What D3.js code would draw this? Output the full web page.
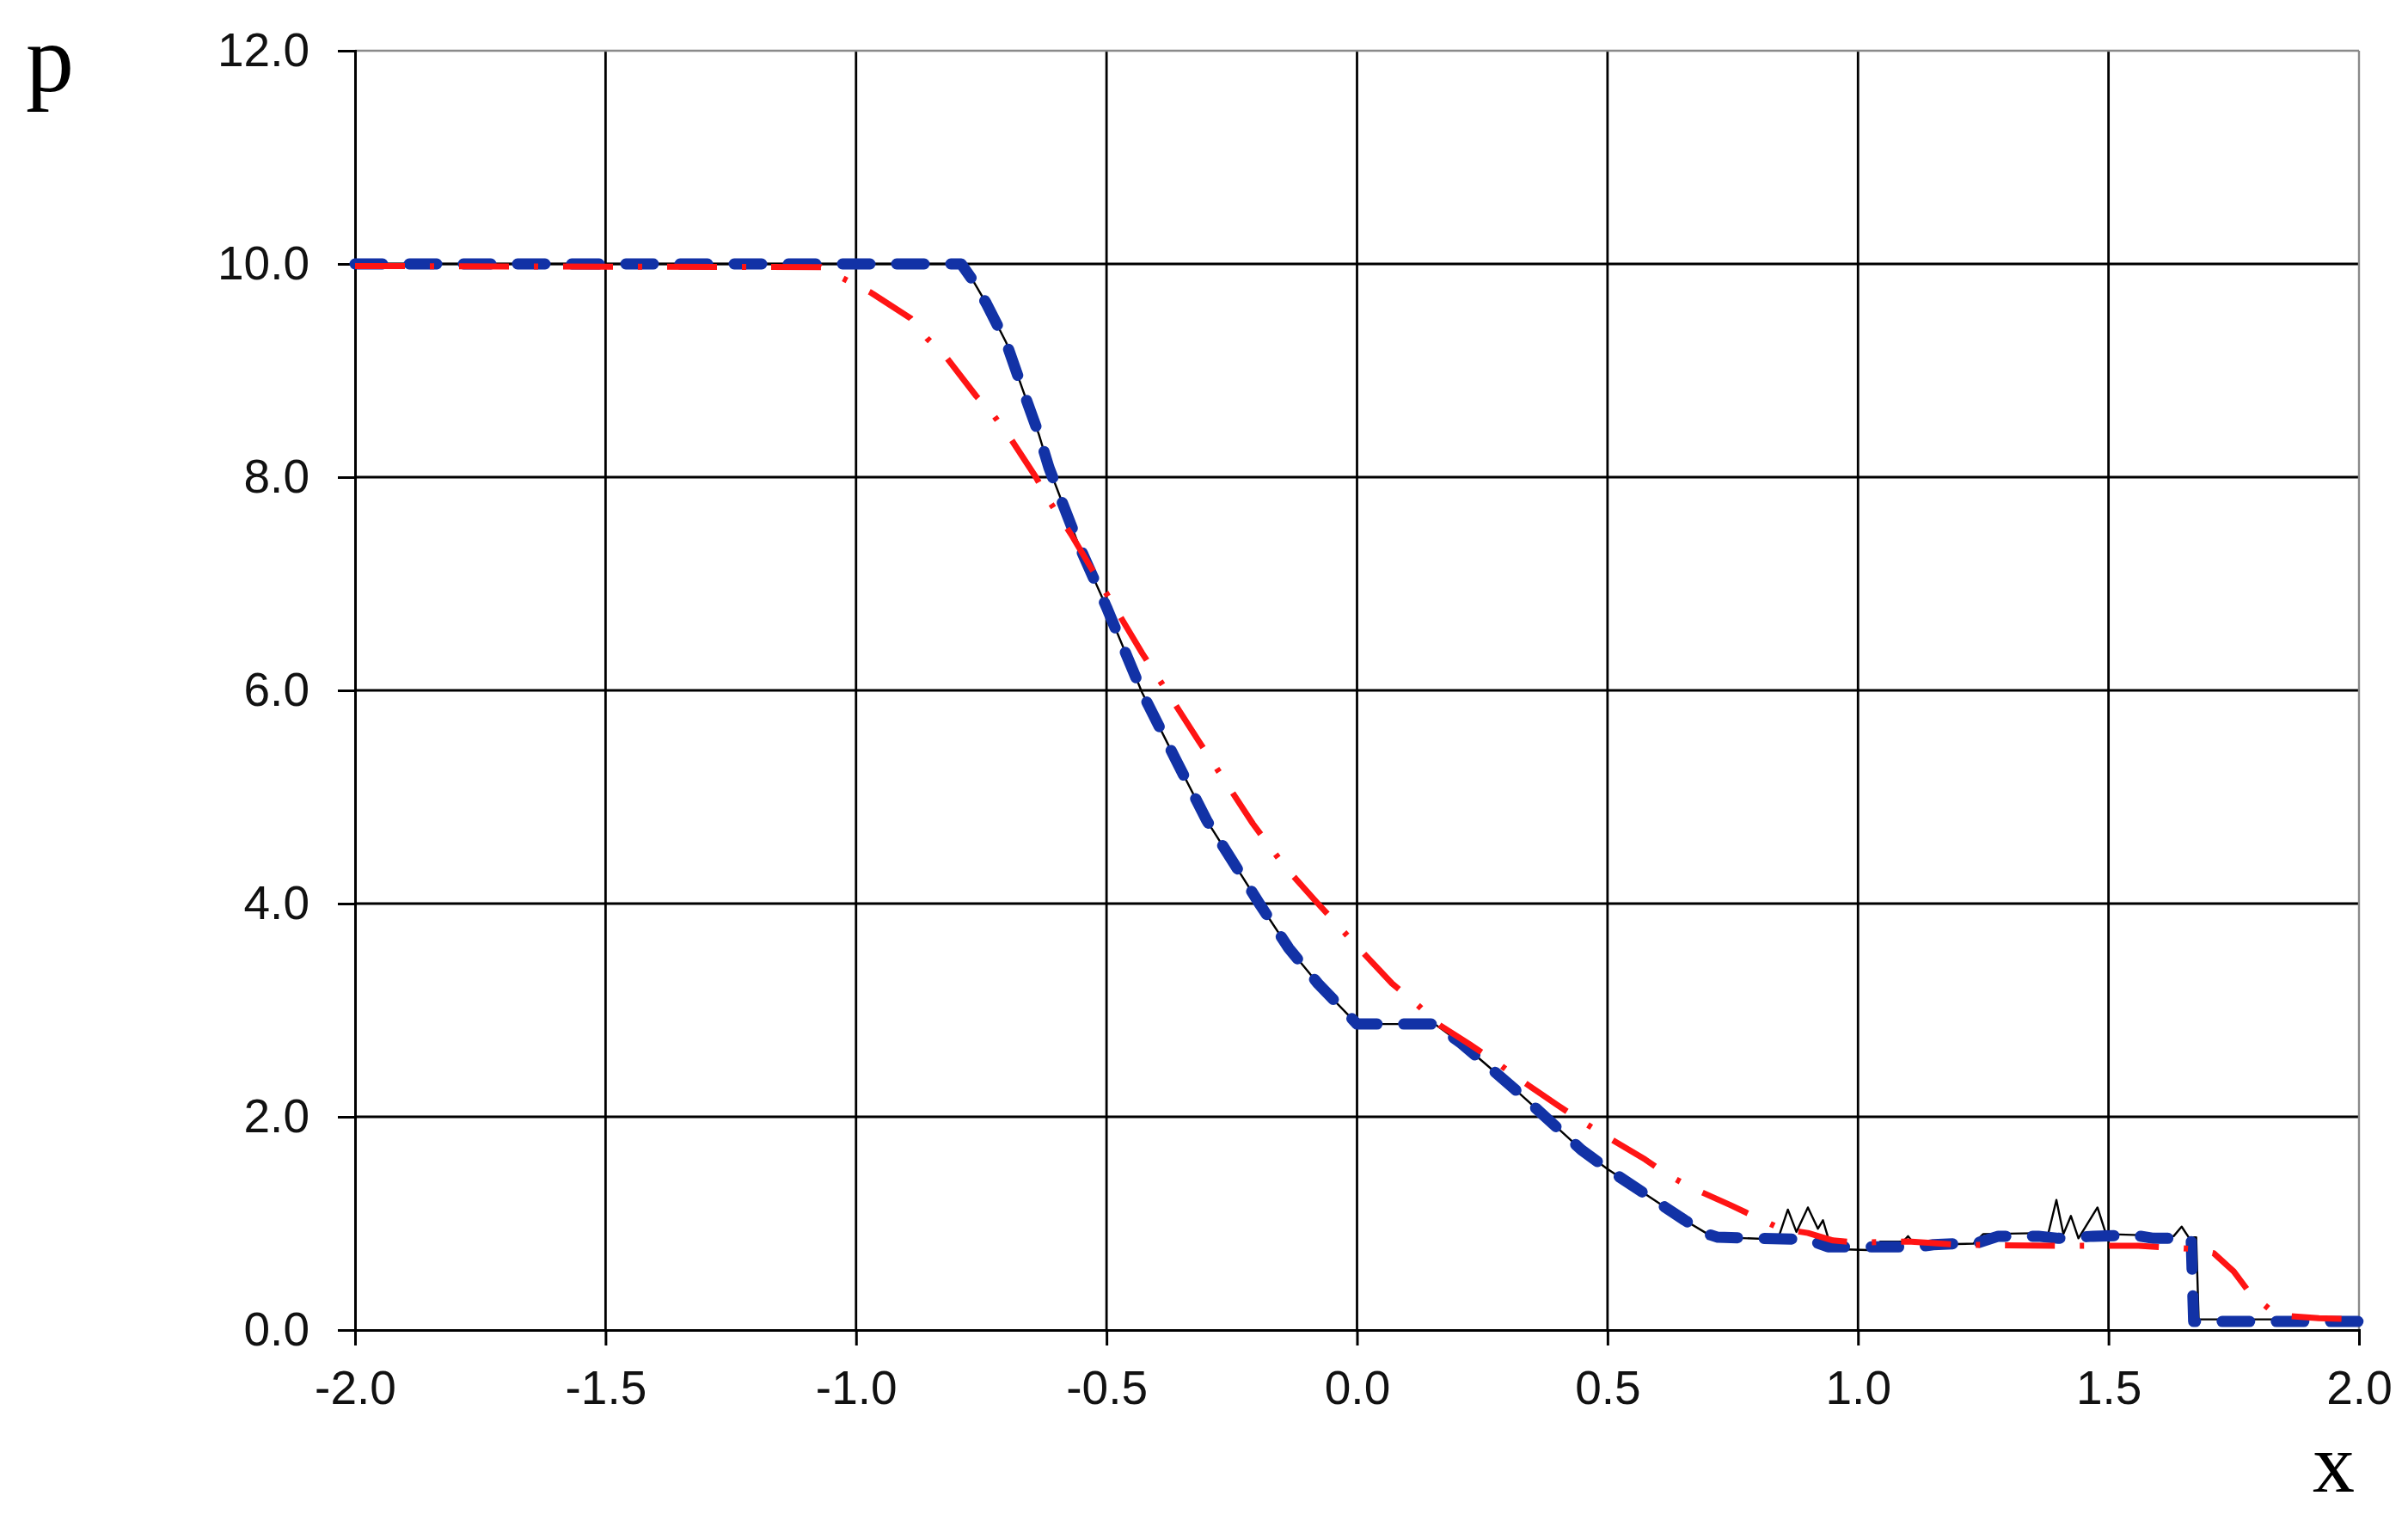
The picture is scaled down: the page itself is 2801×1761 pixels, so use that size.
<!DOCTYPE html>
<html>
<head>
<meta charset="utf-8">
<script src="https://d3js.org/d3.v7.min.js"></script>
<style>
  body { margin: 0; background: #ffffff; }
  .tick text { font-family: "Liberation Sans", Arial, sans-serif; font-size: 55px; fill: #111; }
  .axis-title { font-family: "Liberation Serif", "Times New Roman", serif; fill: #000; }
</style>
</head>
<body>
<div id="chart"></div>
<script>
//pressure profiles p(x), three curves

//thin black solid line (scheme with wiggles)
var blackX = [-2.0, -0.80, -0.766, -0.74, -0.70, -0.668, -0.635, -0.615, -0.589, -0.556, -0.50, -0.429, -0.364, -0.30, -0.234, -0.195, -0.136, -0.078, -0.039, 0.0, 0.155, 0.208, 0.253, 0.317, 0.385, 0.448, 0.50, 0.577, 0.654, 0.70, 0.72, 0.84, 0.86, 0.877, 0.90, 0.92, 0.93, 0.942, 0.948, 1.02, 1.045, 1.09, 1.10, 1.11, 1.13, 1.23, 1.25, 1.38, 1.396, 1.41, 1.425, 1.44, 1.478, 1.495, 1.63, 1.646, 1.66, 1.675, 1.68, 2.0];
var blackP = [10.0, 10.0, 9.84, 9.63, 9.26, 8.83, 8.40, 8.09, 7.77, 7.37, 6.78, 5.98, 5.37, 4.78, 4.29, 4.0, 3.58, 3.25, 3.06, 2.87, 2.87, 2.69, 2.51, 2.25, 1.96, 1.69, 1.51, 1.27, 1.03, 0.90, 0.87, 0.85, 1.13, 0.92, 1.15, 0.95, 1.03, 0.84, 0.76, 0.75, 0.83, 0.83, 0.88, 0.82, 0.80, 0.81, 0.90, 0.91, 1.22, 0.90, 1.07, 0.86, 1.15, 0.90, 0.88, 0.97, 0.87, 0.87, 0.10, 0.10];

//thick blue dashed line
var blueX = [-2.0, -0.79, -0.766, -0.74, -0.70, -0.668, -0.635, -0.615, -0.589, -0.556, -0.50, -0.429, -0.364, -0.30, -0.234, -0.195, -0.136, -0.078, -0.039, 0.0, 0.155, 0.208, 0.253, 0.317, 0.385, 0.448, 0.50, 0.577, 0.654, 0.70, 0.72, 0.90, 0.94, 1.12, 1.15, 1.24, 1.28, 1.36, 1.40, 1.47, 1.55, 1.59, 1.665, 1.67, 2.0];
var blueP = [10.0, 10.0, 9.84, 9.63, 9.26, 8.83, 8.40, 8.09, 7.77, 7.37, 6.78, 5.98, 5.37, 4.78, 4.29, 4.0, 3.58, 3.25, 3.06, 2.87, 2.87, 2.69, 2.51, 2.25, 1.96, 1.69, 1.51, 1.27, 1.03, 0.90, 0.87, 0.85, 0.78, 0.78, 0.80, 0.82, 0.88, 0.88, 0.86, 0.88, 0.89, 0.86, 0.86, 0.08, 0.08];

//red dash-dot line (smoother scheme)
var redX = [-2.0, -1.07, -1.02, -0.97, -0.891, -0.858, -0.819, -0.76, -0.727, -0.694, -0.641, -0.615, -0.569, -0.536, -0.48, -0.429, -0.37, -0.318, -0.208, -0.143, -0.078, 0.0, 0.07, 0.116, 0.165, 0.225, 0.276, 0.322, 0.40, 0.448, 0.50, 0.575, 0.618, 0.67, 0.746, 0.80, 0.846, 0.90, 0.95, 1.0, 1.10, 1.20, 1.40, 1.56, 1.67, 1.71, 1.75, 1.78, 1.82, 1.86, 1.92, 2.0];
var redP = [9.98, 9.97, 9.85, 9.73, 9.49, 9.30, 9.12, 8.76, 8.59, 8.38, 8.0, 7.78, 7.45, 7.19, 6.75, 6.35, 5.92, 5.54, 4.75, 4.34, 4.0, 3.60, 3.25, 3.07, 2.86, 2.68, 2.52, 2.36, 2.11, 1.96, 1.81, 1.60, 1.46, 1.33, 1.17, 1.05, 0.95, 0.91, 0.84, 0.82, 0.83, 0.80, 0.79, 0.79, 0.76, 0.72, 0.55, 0.36, 0.20, 0.13, 0.11, 0.10];

//tick values
var xTicks = [-2.0, -1.5, -1.0, -0.5, 0.0, 0.5, 1.0, 1.5, 2.0];
var yTicks = [0, 2, 4, 6, 8, 10, 12];

//svg size = window size
var svgWidth = 2801;
var svgHeight = 1761;

var chartMargin = {
    top: 59,
    right: 57,
    bottom: 214,
    left: 413
};

var chartWidth = svgWidth - chartMargin.left - chartMargin.right;
var chartHeight = svgHeight - chartMargin.top - chartMargin.bottom;

var svg = d3.select("#chart")
    .append("svg")
    .attr("width", svgWidth)
    .attr("height", svgHeight);

svg.append("rect")
    .attr("width", svgWidth)
    .attr("height", svgHeight)
    .attr("fill", "#ffffff");

var chartGroup = svg.append("g")
    .attr("transform", `translate(${chartMargin.left}, ${chartMargin.top})`);

//scales
var xLinearScale = d3.scaleLinear()
    .domain([-2, 2])
    .range([0, chartWidth]);

var yLinearScale = d3.scaleLinear()
    .domain([0, 12])
    .range([chartHeight, 0]);

//plain hyphen minus like the picture, not the unicode one d3 uses
var fmt = d3.format(".1f");
function tickFmt(d) {
    return fmt(d).replace("\u2212", "-");
}

//gridlines first so curves sit on top
chartGroup.append("g")
    .selectAll("line")
    .data(xTicks.filter(d => d > -2 && d < 2))
    .enter()
    .append("line")
    .attr("x1", d => xLinearScale(d))
    .attr("x2", d => xLinearScale(d))
    .attr("y1", 0)
    .attr("y2", chartHeight)
    .attr("stroke", "#000")
    .attr("stroke-width", 2.8);

chartGroup.append("g")
    .selectAll("line")
    .data(yTicks.filter(d => d > 0 && d < 12))
    .enter()
    .append("line")
    .attr("x1", 0)
    .attr("x2", chartWidth)
    .attr("y1", d => yLinearScale(d))
    .attr("y2", d => yLinearScale(d))
    .attr("stroke", "#000")
    .attr("stroke-width", 2.8);

//grey frame on top and right
chartGroup.append("line")
    .attr("x1", 0).attr("x2", chartWidth)
    .attr("y1", yLinearScale(12)).attr("y2", yLinearScale(12))
    .attr("stroke", "#8a8a8a")
    .attr("stroke-width", 2.4);

chartGroup.append("line")
    .attr("x1", xLinearScale(2)).attr("x2", xLinearScale(2))
    .attr("y1", 0).attr("y2", chartHeight)
    .attr("stroke", "#8a8a8a")
    .attr("stroke-width", 2.4);

//axes
var bottomAxis = d3.axisBottom(xLinearScale)
    .tickValues(xTicks)
    .tickFormat(tickFmt)
    .tickSize(18)
    .tickPadding(29);

var leftAxis = d3.axisLeft(yLinearScale)
    .tickValues(yTicks)
    .tickFormat(tickFmt)
    .tickSize(20)
    .tickPadding(33);

var xAxis = chartGroup.append("g")
    .attr("transform", `translate(0, ${chartHeight})`)
    .call(bottomAxis);

var yAxis = chartGroup.append("g")
    .call(leftAxis);

//make axis lines look like the picture
[xAxis, yAxis].forEach(function(ax) {
    ax.select(".domain").attr("stroke", "#000").attr("stroke-width", 3);
    ax.selectAll(".tick line").attr("stroke", "#000").attr("stroke-width", 3);
    ax.selectAll(".tick text").attr("fill", "#111");
});

//line generator, zip x and p arrays
var lineGen = d3.line()
    .x(d => xLinearScale(d[0]))
    .y(d => yLinearScale(d[1]));

function zip(xs, ps) {
    return xs.map((x, i) => [x, ps[i]]);
}

//black thin line at the bottom of the stack
chartGroup.append("path")
    .datum(zip(blackX, blackP))
    .attr("d", lineGen)
    .attr("fill", "none")
    .attr("stroke", "#000")
    .attr("stroke-width", 2.4)
    .attr("stroke-linejoin", "round");

//thick blue dashes
chartGroup.append("path")
    .datum(zip(blueX, blueP))
    .attr("d", lineGen)
    .attr("fill", "none")
    .attr("stroke", "#1232a6")
    .attr("stroke-width", 13)
    .attr("stroke-linecap", "round")
    .attr("stroke-linejoin", "round")
    .attr("stroke-dasharray", "32,31");

//red dash dot
chartGroup.append("path")
    .datum(zip(redX, redP))
    .attr("d", lineGen)
    .attr("fill", "none")
    .attr("stroke", "#ff1414")
    .attr("stroke-width", 7)
    .attr("stroke-linejoin", "round")
    .attr("stroke-dasharray", "58,29,5,29");

//axis titles, serif like the picture
svg.append("text")
    .attr("class", "axis-title")
    .attr("x", 30)
    .attr("y", 106)
    .attr("font-size", 112)
    .text("p");

svg.append("text")
    .attr("class", "axis-title")
    .attr("x", 2690)
    .attr("y", 1735)
    .attr("font-size", 98)
    .text("x");
</script>
</body>
</html>
